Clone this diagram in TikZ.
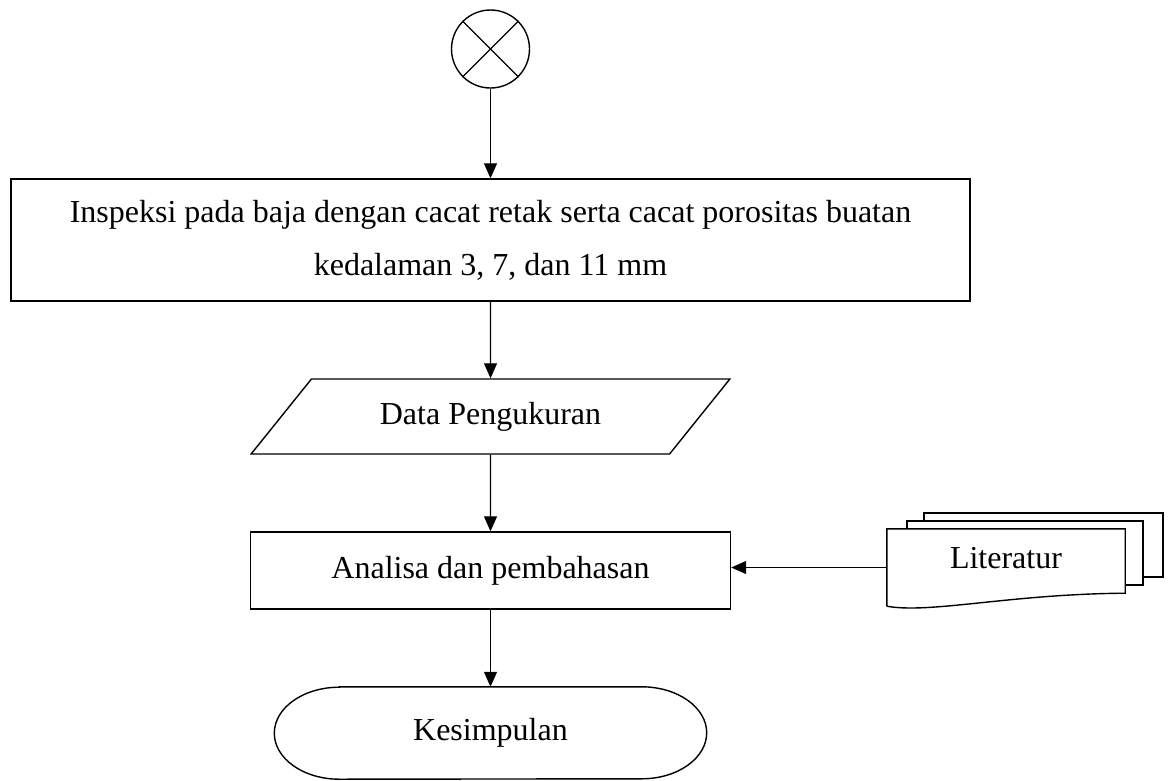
\documentclass[tikz,border=0pt]{standalone}
\usepackage{fontspec}
\setmainfont{Liberation Serif}
\usetikzlibrary{shapes.geometric,arrows.meta,positioning}

\begin{document}
\begin{tikzpicture}[x=1pt,y=-1pt,font=\fontsize{32}{53}\selectfont,
	garis/.style={line width=1.4pt},
	kotak/.style={draw,garis,fill=white,align=center,inner sep=0pt},
	panah/.style={-{Triangle[width=13pt,length=15pt]},line width=1.1pt}]
			\useasboundingbox (0,0) rectangle (1171,780);
			% Simbol mulai
			\node[draw,garis,circle,minimum size=78pt,inner sep=0pt] (mulai) at (490.5,49) {};
			\draw[garis] (mulai.north west) -- (mulai.south east);
			\draw[garis] (mulai.north east) -- (mulai.south west);
			% Proses
			\node[kotak,minimum width=959pt,minimum height=122pt] (inspeksi) at (490.5,240)
				{Inspeksi pada baja dengan cacat retak serta cacat porositas buatan\\kedalaman 3, 7, dan 11 mm};
			\node[kotak,trapezium,trapezium left angle=38,trapezium right angle=142,trapezium stretches=true,
				minimum width=480pt,minimum height=75pt] (data) at (490.5,416.5) {Data Pengukuran};
			\node[kotak,minimum width=480pt,minimum height=77pt] (analisa) at (490.5,570.5) {Analisa dan pembahasan};
			% Simbol selesai
			\node[inner sep=0pt,minimum width=432pt,minimum height=92pt] (simpulan) at (490.5,733) {Kesimpulan};
			\draw[garis] ([xshift=65pt]simpulan.north west) -- ([xshift=-65pt]simpulan.north east)
				arc[start angle=-90,end angle=90,x radius=65,y radius=46]
				-- ([xshift=65pt]simpulan.south west)
				arc[start angle=90,end angle=270,x radius=65,y radius=46] -- cycle;
			% Dokumen literatur
			\draw[garis,fill=white] (924,513) rectangle (1163,577);
			\draw[garis,fill=white] (907,521) rectangle (1143,585);
			\node[fill=white,inner sep=0pt,text depth=19pt,minimum width=238pt,minimum height=77pt] (lit) at (1006,567.5) {Literatur};
			\draw[garis] (lit.south west) -- (lit.north west) -- (lit.north east) -- ([yshift=13pt]lit.south east)
				.. controls (1010,594) and (930,614) .. (lit.south west);
			% Panah
			\draw[panah] (mulai) -- (inspeksi);
			\draw[panah] (inspeksi) -- (data);
			\draw[panah] (data) -- (analisa);
			\draw[panah] (analisa) -- (simpulan);
			\draw[panah] (lit.west) -- (lit.west -| analisa.east);
		\end{tikzpicture}
\end{document}
